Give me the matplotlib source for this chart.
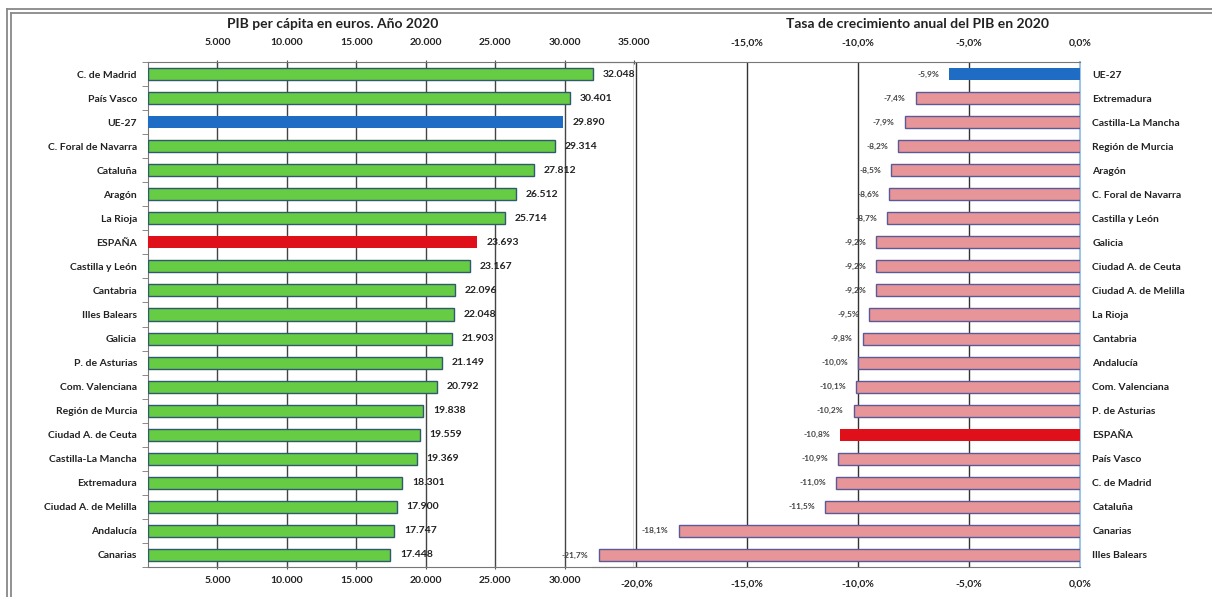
import numpy as np
import matplotlib.pyplot as plt
from matplotlib.lines import Line2D

plt.rcParams['font.family'] = ['Lato', 'DejaVu Sans']

# PIB per cápita 2020 (euros)
reg_pib = ['C. de Madrid', 'País Vasco', 'UE-27', 'C. Foral de Navarra', 'Cataluña',
           'Aragón', 'La Rioja', 'ESPAÑA', 'Castilla y León', 'Cantabria',
           'Illes Balears', 'Galicia', 'P. de Asturias', 'Com. Valenciana',
           'Región de Murcia', 'Ciudad A. de Ceuta', 'Castilla-La Mancha',
           'Extremadura', 'Ciudad A. de Melilla', 'Andalucía', 'Canarias']
pib = [32048, 30401, 29890, 29314, 27812, 26512, 25714, 23693, 23167, 22096,
       22048, 21903, 21149, 20792, 19838, 19559, 19369, 18301, 17900, 17747, 17448]

# Tasa de crecimiento anual del PIB 2020 (%)
reg_tasa = ['UE-27', 'Extremadura', 'Castilla-La Mancha', 'Región de Murcia', 'Aragón',
            'C. Foral de Navarra', 'Castilla y León', 'Galicia', 'Ciudad A. de Ceuta',
            'Ciudad A. de Melilla', 'La Rioja', 'Cantabria', 'Andalucía',
            'Com. Valenciana', 'P. de Asturias', 'ESPAÑA', 'País Vasco',
            'C. de Madrid', 'Cataluña', 'Canarias', 'Illes Balears']
tasa = [-5.9, -7.4, -7.9, -8.2, -8.5, -8.6, -8.7, -9.2, -9.2, -9.2, -9.5, -9.8,
        -10.0, -10.1, -10.2, -10.8, -10.9, -11.0, -11.5, -18.1, -21.7]

pib_ticks = [5000, 10000, 15000, 20000, 25000, 30000, 35000]
tasa_ticks = [-20, -15, -10, -5, 0]


def miles(v):
    return f'{v:,.0f}'.replace(',', '.')


def pct(v):
    return f'{v:.1f}%'.replace('.', ',')


def color_de(nombre, normal):
    if nombre == 'UE-27':
        return '#1f6cc4'
    if nombre == 'ESPAÑA':
        return '#e0101a'
    return normal


fig = plt.figure(figsize=(12.12, 5.97), dpi=100)
W, H = 1212, 597
top, bot = 62, 567
n = len(pib)
y = np.arange(n)
tick_font = dict(fontsize=7.5, fontweight='bold', color='#222222')

# ---- panel izquierdo: PIB per cápita ----
ax1 = fig.add_axes([148 / W, 1 - bot / H, (634 - 148) / W, (bot - top) / H])
cols1 = [color_de(r, '#66cc44') for r in reg_pib]
edges1 = ['none' if c != '#66cc44' else '#2f5a6e' for c in cols1]
ax1.barh(y, pib, height=0.5, color=cols1, edgecolor=edges1, linewidth=1.0, zorder=3)
ax1.set_xlim(0, 35000)
ax1.set_ylim(n - 0.5, -0.5)
ax1.set_yticks(y)
ax1.set_yticklabels(reg_pib, **tick_font)
ax1.set_yticks(np.arange(-0.5, n, 1), minor=True)
ax1.tick_params(axis='y', which='major', length=0, pad=8)
ax1.tick_params(axis='y', which='minor', length=4, color='#777777', direction='out')
# abajo, el 35.000 queda debajo del -20,0% del panel derecho
ax1.set_xticks(pib_ticks[:-1])
ax1.set_xticklabels([miles(t) for t in pib_ticks[:-1]], **tick_font)
ax1.tick_params(axis='x', length=3, direction='inout', color='#555555', pad=5)
ax1.grid(axis='x', color='#444444', linewidth=1.0, zorder=0)
ax1.axvline(35000, color='#444444', linewidth=1.0, zorder=0)
for s in ['top', 'bottom', 'left']:
    ax1.spines[s].set_color('#777777')
ax1.spines['right'].set_visible(False)
ax1.patch.set_alpha(0)
for yi, v in zip(y, pib):
    ax1.text(v + 700, yi, miles(v), va='center', ha='left', fontsize=7.5,
             fontweight='bold', color='#222222', zorder=4)

sec1 = ax1.secondary_xaxis('top')
sec1.set_xticks(pib_ticks)
sec1.set_xticklabels([miles(t) for t in pib_ticks], **tick_font)
sec1.tick_params(axis='x', length=3, direction='inout', color='#555555', pad=9)
sec1.spines['top'].set_visible(False)

# ---- panel derecho: tasa de crecimiento ----
ax2 = fig.add_axes([592 / W, 1 - bot / H, (1080 - 592) / W, (bot - top) / H])
cols2 = [color_de(r, '#e8959a') for r in reg_tasa]
edges2 = ['none' if c != '#e8959a' else '#5a5a96' for c in cols2]
ax2.barh(y, tasa, height=0.5, color=cols2, edgecolor=edges2, linewidth=1.0, zorder=3)
ax2.set_xlim(-22, 0)
ax2.set_ylim(n - 0.5, -0.5)
ax2.yaxis.tick_right()
ax2.set_yticks(y)
ax2.set_yticklabels(reg_tasa, **tick_font)
ax2.tick_params(axis='y', length=0, pad=9)
ax2.set_xticks(tasa_ticks)
ax2.set_xticklabels([pct(t) for t in tasa_ticks], **tick_font)
ax2.tick_params(axis='x', length=0, pad=9)
ax2.grid(axis='x', color='#333333', linewidth=1.0, zorder=0)
ax2.spines['left'].set_visible(False)
ax2.spines['right'].set_color('#9ec3e6')
ax2.spines['right'].set_linewidth(1.5)
ax2.spines['top'].set_color('#777777')
ax2.spines['bottom'].set_color('#777777')
ax2.patch.set_alpha(0)
for yi, v in zip(y, tasa):
    ax2.text(v - 0.45, yi, pct(v), va='center', ha='right', fontsize=6,
             fontweight='bold', color='#444444', zorder=4, clip_on=False)

# etiquetas superiores del eje derecho (sin el -20%)
sec2 = ax2.secondary_xaxis('top')
sec2.set_xticks(tasa_ticks[1:])
sec2.set_xticklabels([pct(t) for t in tasa_ticks[1:]], **tick_font)
sec2.tick_params(axis='x', length=3, direction='inout', color='none', pad=9)
sec2.spines['top'].set_visible(False)

# títulos
fig.text(333 / W, 1 - 24 / H, 'PIB per cápita en euros. Año 2020', ha='center',
         va='center', fontsize=10, fontweight='bold', color='#222222')
fig.text(918 / W, 1 - 24 / H, 'Tasa de crecimiento anual del PIB en 2020', ha='center',
         va='center', fontsize=10, fontweight='bold', color='#222222')

# marco doble
for xx in (6.5, 10.5):
    fig.add_artist(Line2D([xx / W, xx / W], [0, 1 - (xx + 2) / H], color='#888888', lw=1.3))
for yy in (8.5, 12.5):
    fig.add_artist(Line2D([(yy - 2) / W, 1], [1 - yy / H, 1 - yy / H], color='#888888', lw=1.3))

plt.savefig('out.png', dpi=100)
